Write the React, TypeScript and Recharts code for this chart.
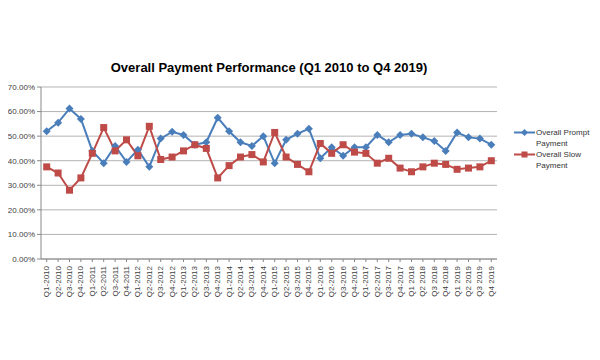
import { CartesianGrid, Line, LineChart, XAxis, YAxis } from "recharts"

const quarters = [
  "Q1-2010", "Q2-2010", "Q3-2010", "Q4-2010",
  "Q1-2011", "Q2-2011", "Q3-2011", "Q4-2011",
  "Q1-2012", "Q2-2012", "Q3-2012", "Q4-2012",
  "Q1-2013", "Q2-2013", "Q3-2013", "Q4-2013",
  "Q1-2014", "Q2-2014", "Q3-2014", "Q4-2014",
  "Q1-2015", "Q2-2015", "Q3-2015", "Q4-2015",
  "Q1-2016", "Q2-2016", "Q3-2016", "Q4-2016",
  "Q1-2017", "Q2-2017", "Q3-2017", "Q4-2017",
  "Q1 2018", "Q2 2018", "Q3 2018", "Q4 2018",
  "Q1 2019", "Q2 2019", "Q3 2019", "Q4 2019",
]

// percent values
const promptPayment = [
  52, 55.5, 61.2, 57, 44, 39, 46, 39.5, 44.5, 37.5,
  49, 51.8, 50.5, 46.5, 47.5, 57.5, 52, 47.5, 46, 50,
  39, 48.5, 51, 53, 41, 45.5, 42, 45.5, 45.5, 50.5,
  47.5, 50.5, 51, 49.5, 48, 44, 51.5, 49.5, 49, 46.5,
]

const slowPayment = [
  37.5, 35, 28, 33, 43, 53.5, 44, 48.5, 42, 54,
  40.5, 41.5, 44, 46.5, 45, 33, 38, 41.5, 42.5, 39.5,
  51.5, 41.5, 38.5, 35.5, 47, 43, 46.5, 43.5, 43, 39,
  41, 37, 35.5, 37.5, 39, 38.5, 36.5, 37, 37.5, 40,
]

const yTicks = [0, 10, 20, 30, 40, 50, 60, 70]

const BLUE = "#4a7ebb"
const RED = "#be4b48"
const FONT = "'Liberation Sans', Arial, sans-serif"

const Diamond = (props: any) => {
  const { cx, cy } = props
  if (cx == null || cy == null) return null
  return <path d={`M${cx},${cy - 4}L${cx + 4},${cy}L${cx},${cy + 4}L${cx - 4},${cy}Z`} fill={BLUE} />
}

const Square = (props: any) => {
  const { cx, cy } = props
  if (cx == null || cy == null) return null
  return <rect x={cx - 3.5} y={cy - 3.5} width={7} height={7} fill={RED} />
}

const LegendBox = () => {
  const item = (color: string, shape: "d" | "s", lines: string[]) => (
    <div style={{ display: "flex", alignItems: "flex-start" }}>
      <svg width={21} height={11} style={{ flexShrink: 0, marginRight: 1 }}>
        <line x1={0} y1={5.5} x2={21} y2={5.5} stroke={color} strokeWidth={2} />
        {shape === "d" ? (
          <path d="M10.5,2L14,5.5L10.5,9L7,5.5Z" fill={color} />
        ) : (
          <rect x={7.5} y={2.5} width={6} height={6} fill={color} />
        )}
      </svg>
      <div style={{ lineHeight: "11px", whiteSpace: "nowrap" }}>
        {lines.map(l => (
          <div key={l}>{l}</div>
        ))}
      </div>
    </div>
  )
  return (
    <div
      style={{
        position: "absolute",
        left: 506,
        top: 119,
        fontFamily: FONT,
        fontSize: 8,
        color: "#333",
      }}
    >
      {item(BLUE, "d", ["Overall Prompt", "Payment"])}
      {item(RED, "s", ["Overall Slow", "Payment"])}
    </div>
  )
}

export default function App() {
  const data = quarters.map((q, i) => ({
    quarter: q,
    prompt: promptPayment[i],
    slow: slowPayment[i],
  }))

  return (
    <div style={{ position: "relative", width: 584, height: 352, background: "#fff" }}>
      <div
        style={{
          position: "absolute",
          left: 33,
          width: 456,
          top: 52,
          textAlign: "center",
          fontFamily: FONT,
          fontWeight: "bold",
          fontSize: 13,
          color: "#000",
        }}
      >
        Overall Payment Performance (Q1 2010 to Q4 2019)
      </div>
      <LineChart
        width={584}
        height={352}
        data={data}
        margin={{ top: 79, right: 95, left: 0, bottom: 0 }}
      >
        <CartesianGrid vertical={false} stroke="#b3b3b3" />
        <XAxis
          dataKey="quarter"
          interval={0}
          height={101}
          padding={{ left: 5.7, right: 5.7 }}
          stroke="#888"
          tickSize={3}
          tick={(props: any) => {
            const { x, y, payload } = props
            return (
              <text
                x={x}
                y={y + 2}
                transform={`rotate(-90, ${x}, ${y + 2})`}
                textAnchor="end"
                dominantBaseline="central"
                fontSize={8}
                fontFamily={FONT}
                fill="#404040"
              >
                {payload.value}
              </text>
            )
          }}
        />
        <YAxis
          width={33}
          domain={[0, 70]}
          ticks={yTicks}
          stroke="#888"
          tickSize={4}
          tickMargin={2}
          tickFormatter={(v: number) => `${v.toFixed(2)}%`}
          tick={{ fontSize: 8, fontFamily: FONT, fill: "#404040" }}
        />
        <Line
          type="linear"
          dataKey="prompt"
          stroke={BLUE}
          strokeWidth={2}
          dot={<Diamond />}
          activeDot={false}
          isAnimationActive={false}
        />
        <Line
          type="linear"
          dataKey="slow"
          stroke={RED}
          strokeWidth={2}
          dot={<Square />}
          activeDot={false}
          isAnimationActive={false}
        />
      </LineChart>
      <LegendBox />
    </div>
  )
}
